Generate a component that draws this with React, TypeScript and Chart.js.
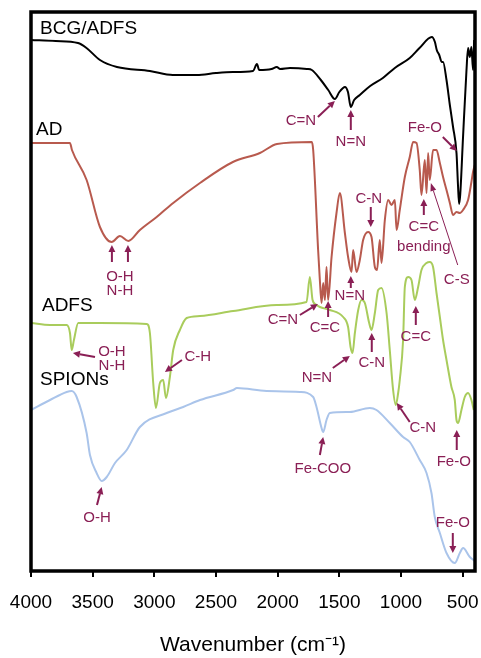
import React, { useEffect, useRef } from "react";
import { Chart, registerables } from "chart.js";

Chart.register(...registerables);

// ---- Data (y in arbitrary transmittance units, offset per sample) ----
const X_TICKS = [4000, 3500, 3000, 2500, 2000, 1500, 1000, 500];

const BCG_WN = [4000,3800,3619,3550,3441,3303,3036,2850,2655,2500,2363,2200,2168,2150,2050,2007,1980,1900,1763,1723,1650,1590,1536,1500,1470,1455,1430,1407,1380,1334,1250,1147,1050,929,850,750,725,710,690,670,659,631,604,578,550,538,529,520,497,469,456,442,429,416,407];
const BCG_T = [531,530,528,523,511,504,500,496,496,498,499,500,507,501,502,504,502,503,502,501,491,481,472,479,483,484,479,464,471,476,485,493,503,513,523,534,529,521,516,509,509,491,466,444,418,386,367,376,434,501,523,514,524,501,531];

const AD_WN = [4000,3684,3668,3549,3441,3346,3279,3211,3117,2981,2847,2630,2363,2144,2006,1723,1712,1672,1658,1644,1631,1617,1604,1591,1563,1523,1496,1455,1429,1401,1388,1361,1334,1307,1267,1239,1212,1194,1172,1158,1131,1104,1077,1050,1036,1010,969,929,902,874,848,834,807,793,780,767,740,712,685,659,631,604,578,550,523,497,456,429,416,402];
const AD_T = [428,428,421,391,344,329,335,330,341,354,368,388,409,418,427,429,421,321,291,268,288,271,304,271,314,358,378,338,314,299,321,299,311,331,339,334,304,301,331,308,351,371,366,371,341,361,394,414,429,428,401,376,411,378,418,391,421,421,408,394,381,368,356,359,358,361,371,389,399,406];

const ADFS_WN = [4000,3846,3711,3684,3670,3652,3617,3441,3062,3036,3009,2987,2955,2928,2906,2874,2847,2793,2738,2630,2361,2009,1766,1739,1717,1685,1658,1577,1469,1429,1409,1393,1374,1347,1320,1293,1258,1239,1212,1185,1158,1117,1091,1064,1042,1023,1010,983,969,942,915,888,861,834,793,767,740,712,685,659,631,591,564,550,537,510,483,456,429,410];
const ADFS_T = [248,246,246,238,221,231,248,248,247,238,188,163,188,191,173,194,221,241,253,255,260,266,269,294,271,266,264,261,254,244,224,218,238,261,271,268,248,241,258,281,283,258,221,181,166,178,191,231,284,294,291,271,284,301,308,309,304,278,254,231,211,184,171,151,148,161,174,178,171,161];

const SPION_WN = [4000,3846,3711,3670,3630,3549,3522,3468,3427,3386,3319,3224,3117,2900,2766,2630,2361,2330,2090,1820,1712,1685,1644,1631,1604,1577,1415,1253,1199,1091,983,929,848,793,753,726,685,631,564,523,497,442,402];
const SPION_T = [161,171,179,180,174,138,116,98,90,94,108,121,144,158,164,171,181,183,180,179,174,164,143,139,151,158,159,163,161,148,134,129,111,98,78,54,38,18,8,18,23,14,10];

const SERIES_NAMES = ["BCG/ADFS", "AD", "ADFS", "SPIONs"];

// series name labels [text, wavenumber, value]
const SERIES_LABELS: [string, number, number][] = [
  ["BCG/ADFS", 3927, 542],
  ["AD", 3959, 441],
  ["ADFS", 3911, 265],
  ["SPIONs", 3927, 191],
];

// band assignment labels [text, wavenumber, value]
const BAND_LABELS: [string, number, number][] = [
  ["C=N", 1812, 450],
  ["N=N", 1407, 429],
  ["Fe-O", 807, 443],
  ["O-H", 3279, 294],
  ["N-H", 3279, 280],
  ["N=N", 1415, 275],
  ["C-N", 1261, 372],
  ["C=N", 1958, 251],
  ["C=C", 1617, 243],
  ["C=C", 815, 344],
  ["bending", 815, 324],
  ["C-S", 548, 291],
  ["O-H", 3344, 219],
  ["N-H", 3344, 205],
  ["C-H", 2647, 214],
  ["N=N", 1682, 193],
  ["C-N", 1237, 208],
  ["C=C", 880, 234],
  ["C-N", 823, 143],
  ["Fe-O", 572, 109],
  ["Fe-COO", 1634, 102],
  ["O-H", 3465, 53],
  ["Fe-O", 580, 48],
];

// arrows [fromWN, fromVal, toWN, toVal, thin]
const ARROWS: [number, number, number, number, boolean][] = [
  [1674, 454, 1536, 470, false],
  [1407, 441, 1407, 461, false],
  [661, 434, 548, 420, false],
  [3344, 309, 3344, 326, false],
  [3214, 309, 3214, 326, false],
  [1407, 283, 1407, 295, false],
  [1245, 364, 1245, 344, false],
  [1820, 256, 1674, 267, false],
  [1591, 254, 1591, 270, false],
  [815, 356, 815, 372, false],
  [540, 306, 758, 388, true],
  [3481, 214, 3660, 218, false],
  [2776, 211, 2914, 199, false],
  [1553, 203, 1415, 215, false],
  [1237, 219, 1237, 238, false],
  [880, 246, 880, 265, false],
  [929, 149, 1034, 168, false],
  [548, 121, 548, 141, false],
  [1658, 116, 1631, 134, false],
  [3465, 66, 3427, 84, false],
  [580, 38, 580, 18, false],
];

const FONT = '"Liberation Sans", Arial, Helvetica, sans-serif';
const ANNOT_COLOR = "#8a1f55";
const COLORS = ["#000000", "#b85a4e", "#a9cc5c", "#aac4ea"];

function zip(xs: number[], ys: number[]) {
  return xs.map((x, i) => ({ x, y: ys[i] }));
}

const overlayPlugin = {
  id: "overlay",
  afterDraw(chart: any) {
    const { ctx, chartArea, scales } = chart;
    const sx = scales.x;
    const sy = scales.y;
    ctx.save();
    // arrows
    ctx.strokeStyle = ANNOT_COLOR;
    ctx.fillStyle = ANNOT_COLOR;
    for (const [w1, v1, w2, v2, thin] of ARROWS) {
      const x1 = sx.getPixelForValue(w1);
      const y1 = sy.getPixelForValue(v1);
      const x2 = sx.getPixelForValue(w2);
      const y2 = sy.getPixelForValue(v2);
      const ang = Math.atan2(y2 - y1, x2 - x1);
      const hl = thin ? 8 : 7;
      const hw = thin ? 3 : 3.5;
      const bx = x2 - hl * Math.cos(ang);
      const by = y2 - hl * Math.sin(ang);
      ctx.lineWidth = thin ? 1 : 2;
      ctx.beginPath();
      ctx.moveTo(x1, y1);
      ctx.lineTo(bx, by);
      ctx.stroke();
      ctx.beginPath();
      ctx.moveTo(x2, y2);
      ctx.lineTo(bx + hw * Math.sin(ang), by - hw * Math.cos(ang));
      ctx.lineTo(bx - hw * Math.sin(ang), by + hw * Math.cos(ang));
      ctx.closePath();
      ctx.fill();
    }
    // band labels
    ctx.font = `15px ${FONT}`;
    ctx.textAlign = "center";
    ctx.textBaseline = "middle";
    for (const [t, w, v] of BAND_LABELS) {
      ctx.fillText(t, sx.getPixelForValue(w), sy.getPixelForValue(v));
    }
    // series labels
    ctx.fillStyle = "#000";
    ctx.font = `19px ${FONT}`;
    ctx.textAlign = "left";
    for (const [t, w, v] of SERIES_LABELS) {
      ctx.fillText(t, sx.getPixelForValue(w), sy.getPixelForValue(v));
    }
    // frame
    ctx.strokeStyle = "#000";
    ctx.lineWidth = 3.5;
    ctx.strokeRect(
      chartArea.left,
      chartArea.top,
      chartArea.right - chartArea.left,
      chartArea.bottom - chartArea.top
    );
    ctx.restore();
  },
};

export default function App() {
  const ref = useRef<HTMLCanvasElement | null>(null);
  useEffect(() => {
    document.body.style.margin = "0";
    const canvas = ref.current;
    if (!canvas) return;
    const series = [
      zip(BCG_WN, BCG_T),
      zip(AD_WN, AD_T),
      zip(ADFS_WN, ADFS_T),
      zip(SPION_WN, SPION_T),
    ];
    const chart = new Chart(canvas, {
      type: "line",
      data: {
        datasets: series.map((d, i) => ({
          label: SERIES_NAMES[i],
          data: d,
          borderColor: COLORS[i],
          borderWidth: 2,
          pointRadius: 0,
          fill: false,
          cubicInterpolationMode: "monotone" as const,
        })),
      },
      options: {
        responsive: false,
        animation: false,
        devicePixelRatio: 1,
        parsing: true,
        layout: { padding: { left: 31, right: 6, top: 12, bottom: 0 } },
        plugins: {
          legend: { display: false },
          tooltip: { enabled: false },
        },
        scales: {
          x: {
            type: "linear",
            reverse: true,
            min: 400,
            max: 4000,
            afterBuildTicks: (s: any) => {
              s.ticks = X_TICKS.map((v) => ({ value: v }));
            },
            afterFit: (s: any) => {
              s.paddingLeft = 0;
              s.paddingRight = 0;
            },
            ticks: {
              font: { size: 19, family: FONT },
              color: "#000",
              padding: 14,
              maxRotation: 0,
              autoSkip: false,
              callback: (v: any) => String(v),
            },
            grid: {
              display: true,
              drawOnChartArea: false,
              drawTicks: true,
              tickLength: 6,
              color: "#000",
              lineWidth: 2,
            },
            border: { display: false },
            title: {
              display: true,
              text: "Wavenumber (cm⁻¹)",
              font: { size: 21, family: FONT },
              color: "#000",
              padding: { top: 5, bottom: 0 },
            },
          },
          y: {
            display: false,
            min: 0,
            max: 559,
          },
        },
      },
      plugins: [overlayPlugin],
    });
    return () => chart.destroy();
  }, []);
  return (
    <canvas
      ref={ref}
      width={481}
      height={658}
      style={{ display: "block", width: 481, height: 658 }}
    />
  );
}
